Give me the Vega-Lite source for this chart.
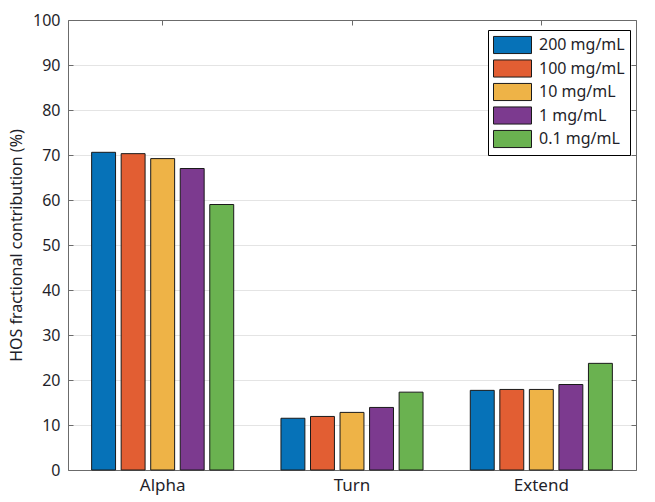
{
  "$schema": "https://vega.github.io/schema/vega-lite/v6.json",
  "width": 568,
  "height": 450,
  "autosize": {"type": "none"},
  "padding": {"left": 68, "top": 20, "right": 19, "bottom": 32},
  "background": "white",
  "config": {
    "font": "Noto Sans",
    "view": {"stroke": null},
    "axis": {
      "domainColor": "#6b6b6b",
      "tickColor": "#6b6b6b",
      "labelColor": "#1f1f2a",
      "titleColor": "#1f1f2a",
      "labelFontSize": 16,
      "titleFontSize": 16,
      "titleFontWeight": "normal",
      "labelFont": "Noto Sans",
      "titleFont": "Noto Sans",
      "gridColor": "#e4e4e4",
      "tickSize": -5
    }
  },
  "data": {
    "values": [
      {"group": "Alpha", "conc": "200 mg/mL", "value": 70.6},
      {"group": "Alpha", "conc": "100 mg/mL", "value": 70.3},
      {"group": "Alpha", "conc": "10 mg/mL", "value": 69.2},
      {"group": "Alpha", "conc": "1 mg/mL", "value": 67.0},
      {"group": "Alpha", "conc": "0.1 mg/mL", "value": 59.0},
      {"group": "Turn", "conc": "200 mg/mL", "value": 11.5},
      {"group": "Turn", "conc": "100 mg/mL", "value": 11.9},
      {"group": "Turn", "conc": "10 mg/mL", "value": 12.8},
      {"group": "Turn", "conc": "1 mg/mL", "value": 13.9},
      {"group": "Turn", "conc": "0.1 mg/mL", "value": 17.3},
      {"group": "Extend", "conc": "200 mg/mL", "value": 17.7},
      {"group": "Extend", "conc": "100 mg/mL", "value": 17.9},
      {"group": "Extend", "conc": "10 mg/mL", "value": 17.9},
      {"group": "Extend", "conc": "1 mg/mL", "value": 19.0},
      {"group": "Extend", "conc": "0.1 mg/mL", "value": 23.7}
    ]
  },
  "layer": [
    {
      "mark": {"type": "bar", "stroke": "#1a1a1a", "strokeWidth": 1},
      "encoding": {
        "x": {
          "field": "group", "type": "nominal",
          "sort": ["Alpha", "Turn", "Extend"],
          "scale": {"paddingInner": 0, "paddingOuter": 0},
          "axis": {"title": null, "labelAngle": 0, "labelPadding": 12, "labelFontSize": 17, "grid": false}
        },
        "xOffset": {
          "field": "conc", "type": "nominal",
          "sort": ["200 mg/mL", "100 mg/mL", "10 mg/mL", "1 mg/mL", "0.1 mg/mL"],
          "scale": {"paddingInner": 0.19, "paddingOuter": 0.8}
        },
        "y": {
          "field": "value", "type": "quantitative",
          "scale": {"domain": [0, 100]},
          "axis": {
            "title": "HOS fractional contribution (%)",
            "values": [0, 10, 20, 30, 40, 50, 60, 70, 80, 90, 100],
            "grid": true,
            "labelPadding": 13,
            "titlePadding": 8
          }
        },
        "color": {
          "field": "conc", "type": "nominal",
          "sort": ["200 mg/mL", "100 mg/mL", "10 mg/mL", "1 mg/mL", "0.1 mg/mL"],
          "scale": {
            "domain": ["200 mg/mL", "100 mg/mL", "10 mg/mL", "1 mg/mL", "0.1 mg/mL"],
            "range": ["#0672B8", "#E25E33", "#EEB347", "#7C3A8F", "#6AB250"]
          },
          "legend": {
            "title": null,
            "orient": "none",
            "legendX": 420,
            "legendY": 10,
            "padding": 5,
            "strokeColor": "#000000",
            "fillColor": "#ffffff",
            "symbolType": "M-1,-0.9H3V0.9H-1Z",
            "symbolSize": 361,
            "symbolStrokeColor": "#1a1a1a",
            "symbolStrokeWidth": 1,
            "symbolOpacity": 1,
            "labelOffset": 26,
            "labelFontSize": 16,
            "labelColor": "#1f1f2a",
            "rowPadding": 1.5
          }
        }
      }
    },
    {
      "mark": {"type": "bar", "opacity": 0},
      "encoding": {
        "x": {
          "field": "group", "type": "nominal",
          "sort": ["Alpha", "Turn", "Extend"],
          "axis": {"orient": "top", "title": null, "labels": false, "grid": false}
        },
        "y": {
          "field": "value", "type": "quantitative", "stack": null,
          "scale": {"domain": [0, 100]},
          "axis": {
            "orient": "right", "title": null, "labels": false, "grid": false,
            "values": [0, 10, 20, 30, 40, 50, 60, 70, 80, 90, 100]
          }
        }
      }
    }
  ],
  "resolve": {"axis": {"x": "independent", "y": "independent"}}
}
